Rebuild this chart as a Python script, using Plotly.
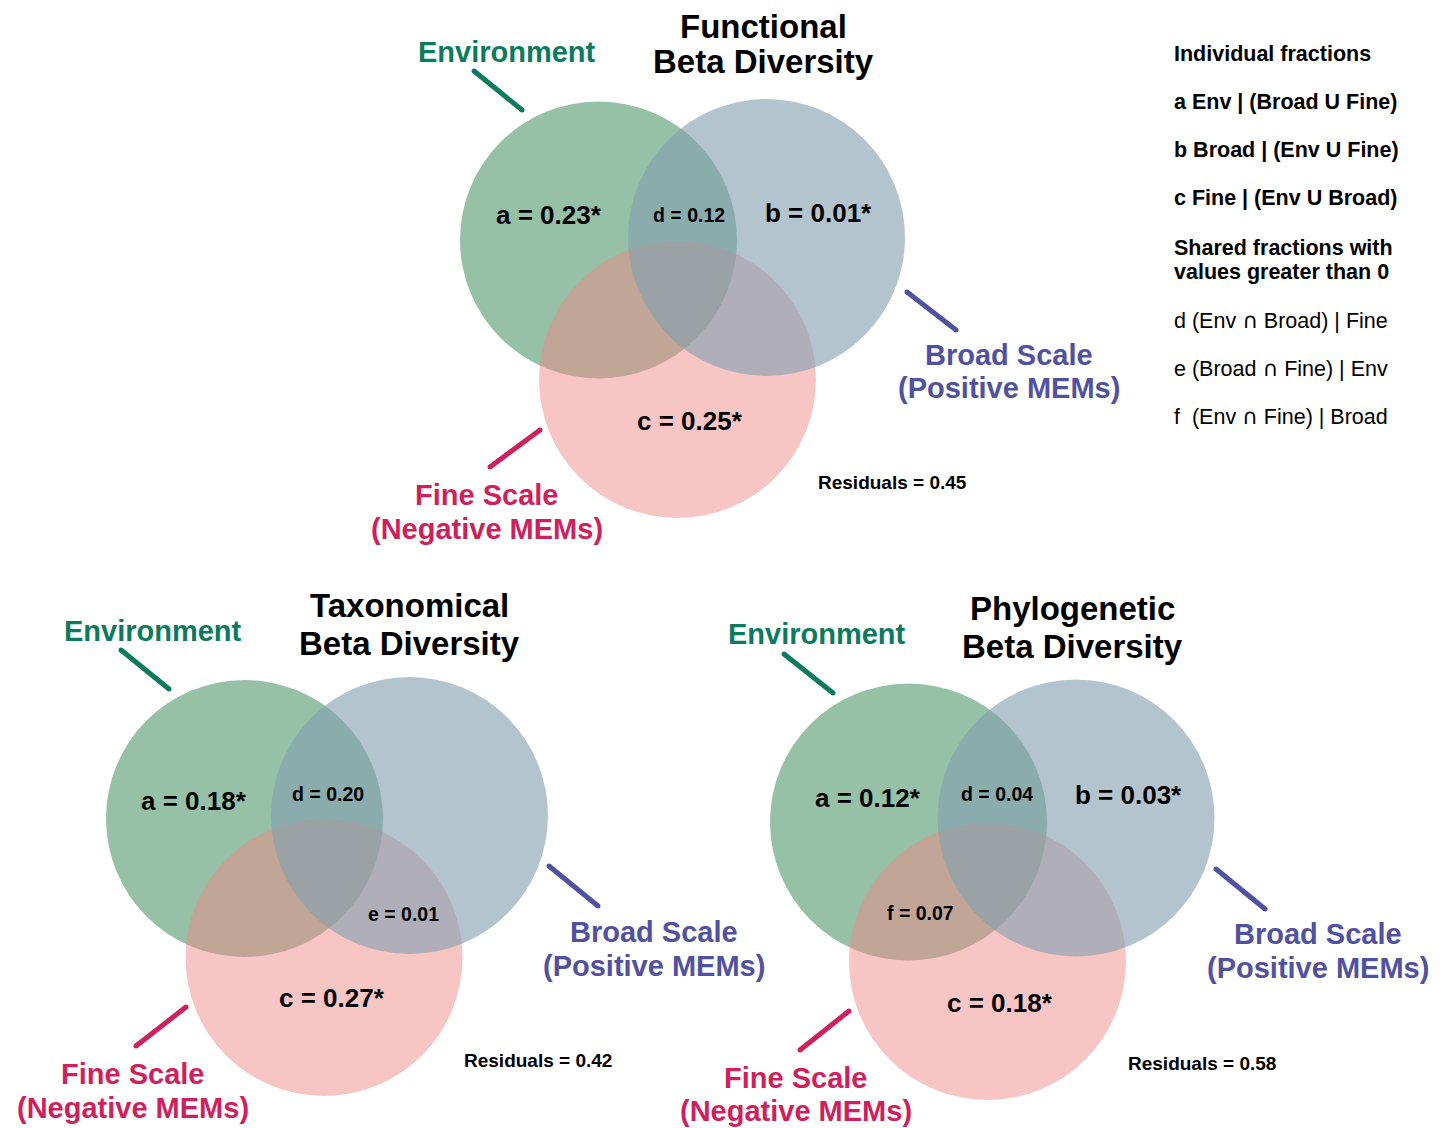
import plotly.graph_objects as go

# ---------------- values ----------------
panel_names = ["Functional", "Taxonomical", "Phylogenetic"]
frac_a = [0.23, 0.18, 0.12]          # Env | (Broad U Fine)
frac_b = [0.01, None, 0.03]          # Broad | (Env U Fine)
frac_c = [0.25, 0.27, 0.18]          # Fine | (Env U Broad)
frac_d = [0.12, 0.20, 0.04]          # (Env ∩ Broad) | Fine
frac_e = [None, 0.01, None]          # (Broad ∩ Fine) | Env
frac_f = [None, None, 0.07]          # (Env ∩ Fine) | Broad
residuals = [0.45, 0.42, 0.58]

set_labels = ["Environment", "Broad Scale", "Fine Scale"]
set_sublabels = ["", "(Positive MEMs)", "(Negative MEMs)"]

legend_lines = [
    ("Individual fractions", True),
    ("a Env | (Broad U Fine)", True),
    ("b Broad | (Env U Fine)", True),
    ("c Fine | (Env U Broad)", True),
    ("Shared fractions with", True),
    ("values greater than 0", True),
    ("d (Env ∩ Broad) | Fine", False),
    ("e (Broad ∩ Fine) | Env", False),
    ("f  (Env ∩ Fine) | Broad", False),
]

# ---------------- page geometry (pixels) ----------------
W, H = 1451, 1128
R = 138.5
FONT = "Liberation Sans, Arial, Helvetica, sans-serif"

ENV_COL = "#0b7a5d"
BROAD_COL = "#5151a1"
FINE_COL = "#cf1f5c"
GREEN_FILL = "rgba(80,152,106,0.60)"
PINK_FILL = "rgba(240,134,134,0.48)"
BLUE_FILL = "rgba(132,160,176,0.62)"

panel_layout = [
    dict(green=(598.5, 240), blue=(766.5, 237.5), pink=(677.5, 379.5),
         title=(763.5, 26, 61), env=(507, 52), env_line=((474, 71), (522, 110)),
         broad=(1008.5, 355, 388), broad_line=((907, 292), (956, 330)),
         fine=(486.5, 495, 529), fine_line=((490, 467), (540, 430)),
         a=(549, 214.5), b=(818.5, 213), c=(690, 421), d=(689, 215),
         e=None, f=None, resid=(892, 482)),
    dict(green=(244.5, 818.5), blue=(409.5, 815.5), pink=(324, 957.5),
         title=(409, 605, 643), env=(153, 631), env_line=((121, 650), (169, 689)),
         broad=(653.5, 932, 966), broad_line=((549, 866), (598, 906)),
         fine=(132.5, 1074, 1108), fine_line=((136, 1046), (186, 1007)),
         a=(194, 801), b=None, c=(332, 998), d=(328, 794),
         e=(403.5, 914), f=None, resid=(538, 1060)),
    dict(green=(908.5, 822), blue=(1076, 818), pink=(987.5, 961.5),
         title=(1072, 608, 646), env=(816.5, 634), env_line=((784, 654), (833, 693)),
         broad=(1317.5, 934, 968), broad_line=((1216, 869), (1265, 909)),
         fine=(795.5, 1078, 1111), fine_line=((800, 1050), (849, 1011)),
         a=(867.5, 797.5), b=(1128, 795), c=(1000, 1003), d=(996.5, 794),
         e=None, f=(920.5, 912.5), resid=(1201.5, 1063.5)),
]

shapes = []
annotations = []


def text(x, y, s, size, color="black", bold=True, xanchor="center"):
    annotations.append(dict(
        x=x, y=y, xref="x", yref="y", text=s, showarrow=False,
        xanchor=xanchor, yanchor="middle",
        font=dict(family=FONT, size=size, color=color,
                  weight=700 if bold else 400),
    ))


def circle(center, fill):
    cx, cy = center
    shapes.append(dict(type="circle", xref="x", yref="y",
                       x0=cx - R, x1=cx + R, y0=cy - R, y1=cy + R,
                       fillcolor=fill, line=dict(width=0), layer="below"))


def leader(p0, p1, color, w=5):
    shapes.append(dict(type="line", xref="x", yref="y",
                       x0=p0[0], y0=p0[1], x1=p1[0], y1=p1[1],
                       line=dict(color=color, width=w)))
    # rounded ends
    for px, py in (p0, p1):
        shapes.append(dict(type="circle", xref="x", yref="y",
                           x0=px - w / 2, x1=px + w / 2, y0=py - w / 2, y1=py + w / 2,
                           fillcolor=color, line=dict(width=0)))


def fmt(v, star):
    return f"{v:.2f}" + ("*" if star else "")


for i, name in enumerate(panel_names):
    L = panel_layout[i]
    # circles: Environment, Fine scale, Broad scale (top)
    circle(L["green"], GREEN_FILL)
    circle(L["pink"], PINK_FILL)
    circle(L["blue"], BLUE_FILL)

    tx, ty1, ty2 = L["title"]
    text(tx, ty1, name, 33)
    text(tx, ty2, "Beta Diversity", 33)

    text(L["env"][0], L["env"][1], set_labels[0], 29, ENV_COL)
    leader(*L["env_line"], ENV_COL)

    bx, by1, by2 = L["broad"]
    text(bx, by1, set_labels[1], 29, BROAD_COL)
    text(bx, by2, set_sublabels[1], 29, BROAD_COL)
    leader(*L["broad_line"], BROAD_COL)

    fx, fy1, fy2 = L["fine"]
    text(fx, fy1, set_labels[2], 29, FINE_COL)
    text(fx, fy2, set_sublabels[2], 29, FINE_COL)
    leader(*L["fine_line"], FINE_COL)

    for key, vals, star, size in [("a", frac_a, True, 26), ("b", frac_b, True, 26),
                                  ("c", frac_c, True, 26), ("d", frac_d, False, 19.5),
                                  ("e", frac_e, False, 19.5), ("f", frac_f, False, 19.5)]:
        v = vals[i]
        if v is not None and L[key] is not None:
            text(L[key][0], L[key][1], f"{key} = {fmt(v, star)}", size)

    text(L["resid"][0], L["resid"][1], f"Residuals = {residuals[i]:.2f}", 19)

# fraction key on the right; the intersection sign uses a font with a full-height glyph
legend_y = [54, 101.7, 150, 198, 248, 271.7, 320, 368, 416]
for (line, bold), y in zip(legend_lines, legend_y):
    shown = line.replace("∩", "<span style='font-family:DejaVu Sans'>∩</span>")
    text(1172, y, shown, 21.5, bold=bold, xanchor="left")

fig = go.Figure()
fig.add_trace(go.Scatter(x=[0, W], y=[0, H], mode="markers",
                         marker=dict(opacity=0), hoverinfo="skip", showlegend=False))
fig.update_layout(
    width=W, height=H,
    margin=dict(l=0, r=0, t=0, b=0),
    paper_bgcolor="white", plot_bgcolor="white",
    xaxis=dict(range=[0, W], visible=False, fixedrange=True),
    yaxis=dict(range=[H, 0], visible=False, fixedrange=True),
    shapes=shapes, annotations=annotations, showlegend=False,
)
fig.write_html("out.html", config={"displayModeBar": False},
               post_script="document.body.style.margin='0';")
